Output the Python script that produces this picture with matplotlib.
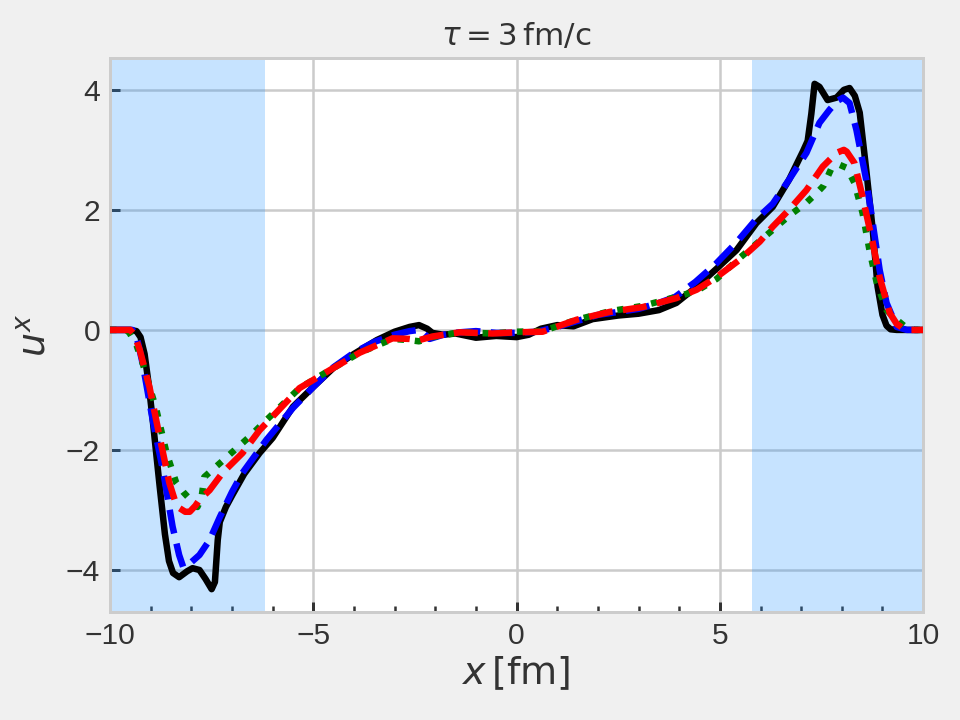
import numpy as np
import matplotlib
matplotlib.use("Agg")
import matplotlib.pyplot as plt
from matplotlib.ticker import MultipleLocator

plt.rcParams['font.family'] = ['Liberation Sans', 'DejaVu Sans']
plt.rcParams['mathtext.fontset'] = 'dejavusans'

# black solid
x_k = [-10, -9.5, -9.35, -9.25, -9.15, -9.05, -8.95, -8.78, -8.65, -8.55, -8.45, -8.3, -8.1, -7.97,
       -7.8, -7.65, -7.5, -7.42, -7.35, -7.3, -7.15, -6.99, -6.7, -6.32, -6.0, -5.5, -5.0,
       -4.5, -4.0, -3.44, -3.0, -2.63, -2.4, -2.2, -2.07, -1.8, -1.5, -1.0, -0.5, 0.0, 0.3,
       0.6, 1.0, 1.4, 1.87, 2.5, 3.0, 3.5, 3.93, 4.43, 4.92, 5.41, 5.9, 6.3, 6.7, 7.04, 7.16,
       7.25, 7.33, 7.45, 7.65, 7.87, 8.05, 8.19, 8.32, 8.44, 8.6, 8.76, 8.88, 9.0, 9.1, 9.2, 9.35, 10]
u_k = [0, 0, -0.02, -0.12, -0.4, -0.9, -1.5, -2.6, -3.4, -3.85, -4.05, -4.12, -4.02, -3.97,
       -4.0, -4.15, -4.32, -4.2, -3.5, -3.2, -2.95, -2.75, -2.4, -2.05, -1.8, -1.28, -0.95,
       -0.63, -0.4, -0.17, -0.03, 0.05, 0.08, 0.02, -0.05, -0.08, -0.06, -0.13, -0.1, -0.12, -0.08,
       0.02, 0.08, 0.06, 0.18, 0.24, 0.27, 0.33, 0.45, 0.72, 1.02, 1.33, 1.78, 2.05, 2.5, 2.97, 3.15,
       3.6, 4.1, 4.05, 3.83, 3.87, 4.0, 4.03, 3.9, 3.62, 2.67, 1.67, 0.72, 0.25, 0.07, 0.01, 0, 0]

# blue dashed
x_b = [-10, -9.45, -9.35, -9.2, -8.95, -8.7, -8.46, -8.3, -8.2, -8.05, -7.8, -7.55, -7.3,
       -7.0, -6.74, -6.15, -5.5, -5.0, -4.5, -4.0, -3.5, -3.0, -2.63, -2.4, -2.3, -2.14, -1.8,
       -1.4, -1.0, -0.5, 0.0, 0.5, 1.0, 1.5, 2.0, 2.5, 3.0, 3.5, 3.9, 4.4, 4.9, 5.4, 5.9, 6.3,
       6.7, 7.13, 7.45, 7.7, 7.9, 8.03, 8.19, 8.36, 8.6, 8.76, 8.93, 9.1, 9.35, 9.6, 10]
u_b = [0, 0, -0.1, -0.55, -1.5, -2.33, -3.28, -3.75, -3.95, -3.9, -3.75, -3.5, -3.12,
       -2.7, -2.38, -1.83, -1.3, -0.95, -0.62, -0.38, -0.2, -0.08, -0.02, 0.0, -0.05, -0.15, -0.08,
       -0.04, -0.02, -0.05, -0.05, -0.03, 0.05, 0.15, 0.25, 0.3, 0.35, 0.45, 0.55, 0.8, 1.1, 1.45, 1.85, 2.1,
       2.5, 2.95, 3.45, 3.67, 3.82, 3.87, 3.78, 3.33, 2.5, 1.78, 1.0, 0.45, 0.05, 0, 0]

# green dotted
x_g = [-10, -9.6, -9.52, -9.35, -9.2, -8.86, -8.61, -8.37, -8.2, -8.09, -7.95, -7.85, -7.75,
       -7.68, -7.48, -7.13, -6.57, -6.15, -5.34, -4.67, -3.86, -3.05, -2.63, -2.4, -2.07, -1.4,
       -0.59, 0.0, 0.64, 1.48, 2.29, 3.1, 3.93, 4.43, 4.92, 5.49, 6.22, 6.7, 7.13, 7.38, 7.55,
       7.65, 7.75, 7.95, 8.12, 8.31, 8.51, 8.68, 8.86, 9.1, 9.35, 9.6, 9.8, 10]
u_g = [0, 0, -0.05, -0.25, -0.55, -1.33, -2.05, -2.55, -2.7, -2.78, -2.9, -2.95, -2.8,
       -2.45, -2.33, -2.12, -1.78, -1.5, -0.97, -0.7, -0.38, -0.15, -0.17, -0.19, -0.12, -0.04,
       -0.06, -0.03, -0.02, 0.17, 0.31, 0.4, 0.55, 0.65, 0.85, 1.2, 1.62, 1.9, 2.12, 2.28, 2.4,
       2.55, 2.7, 2.75, 2.7, 2.45, 1.95, 1.33, 0.78, 0.33, 0.17, 0.03, 0, 0]

# red dashed
x_r = [-10, -9.5, -9.4, -9.27, -9.03, -8.78, -8.54, -8.4, -8.29, -8.15, -8.04, -7.9, -7.8,
       -7.55, -7.23, -6.74, -6.32, -6.15, -5.34, -4.67, -3.86, -3.05, -2.63, -2.4, -2.07, -1.4,
       -0.59, 0.0, 0.64, 1.48, 2.29, 3.1, 3.93, 4.43, 4.92, 5.49, 5.98, 6.3, 6.7, 7.13, 7.53,
       7.87, 8.05, 8.12, 8.31, 8.51, 8.76, 8.93, 9.18, 9.35, 9.5, 9.7, 10]
u_r = [0, 0, -0.08, -0.33, -0.95, -1.78, -2.55, -2.85, -2.97, -3.03, -3.03, -2.93, -2.83,
       -2.67, -2.38, -2.05, -1.67, -1.55, -0.97, -0.7, -0.38, -0.14, -0.15, -0.17, -0.11, -0.04,
       -0.06, -0.04, -0.03, 0.17, 0.3, 0.38, 0.53, 0.67, 0.88, 1.17, 1.47, 1.72, 2.0, 2.33, 2.72,
       2.95, 3.0, 2.97, 2.78, 2.22, 1.45, 0.88, 0.28, 0.1, 0.03, 0, 0]

shade_left = (-10, -6.2)
shade_right = (5.8, 10)

# 72 dpi so that sizes in points equal pixels
fig = plt.figure(figsize=(960 / 72, 720 / 72), dpi=72, facecolor='#f0f0f0')
ax = fig.add_axes([0.1146, 0.15, 0.847, 0.7694])
ax.set_facecolor('white')

ax.axvspan(*shade_left, color='dodgerblue', alpha=0.25, lw=0, zorder=1)
ax.axvspan(*shade_right, color='dodgerblue', alpha=0.25, lw=0, zorder=1)

lw = 6.5
ax.plot(x_k, u_k, color='black', lw=lw, zorder=3, solid_joinstyle='round')
ax.plot(x_b, u_b, color='blue', lw=lw, ls='--', zorder=4)
ax.plot(x_g, u_g, color='green', lw=lw, ls=':', zorder=5)
ax.plot(x_r, u_r, color='red', lw=lw, ls='--', zorder=6)

ax.set_xlim(-10, 10)
ax.set_ylim(-4.7, 4.53)
ax.xaxis.set_major_locator(MultipleLocator(5))
ax.xaxis.set_minor_locator(MultipleLocator(1))
ax.yaxis.set_major_locator(MultipleLocator(2))

ax.set_axisbelow(True)
ax.grid(True, which='major', color='#cbcbcb', lw=2.5)
for s in ax.spines.values():
    s.set_color('#cccccc')
    s.set_linewidth(3)

ax.tick_params(which='both', direction='in', colors='#333333', labelsize=30,
               top=False, right=False)
ax.tick_params(which='major', length=10, width=3, pad=10)
ax.tick_params(which='minor', length=6, width=2.5)

ax.set_xlabel(r'$x\,[\mathrm{fm}]$', fontsize=38, color='#333333', labelpad=4)
ax.set_ylabel(r'$u^x$', fontsize=38, color='#333333', labelpad=12)
ax.set_title(r'$\tau = 3\,\mathrm{fm/c}$', fontsize=31, color='#333333', pad=13)

fig.savefig('out.png', dpi=72, facecolor=fig.get_facecolor())
